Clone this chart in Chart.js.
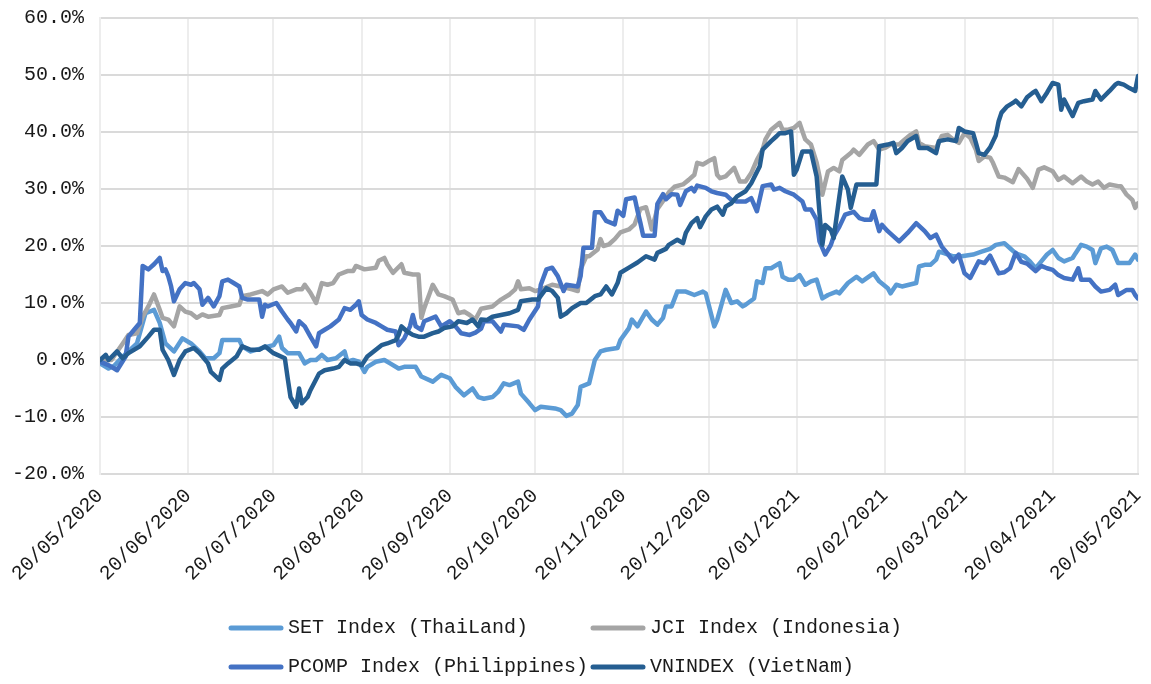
<!DOCTYPE html>
<html>
<head>
<meta charset="utf-8">
<title>ASEAN indices</title>
<script src="https://cdn.jsdelivr.net/npm/chart.js"></script>
<style>
  html, body { margin: 0; padding: 0; background: #fff; }
</style>
</head>
<body>
<canvas id="chart" width="1151" height="684"></canvas>
<script>
// x values are day offsets counted from 20/05/2020
const tickLabels = ['20/05/2020', '20/06/2020', '20/07/2020', '20/08/2020', '20/09/2020', '20/10/2020',
  '20/11/2020', '20/12/2020', '20/01/2021', '20/02/2021', '20/03/2021', '20/04/2021', '20/05/2021'];

const seriesNames = ['SET Index (ThaiLand)', 'JCI Index (Indonesia)', 'PCOMP Index (Philippines)', 'VNINDEX (VietNam)'];
const seriesColors = ['#5B9BD5', '#A5A5A5', '#4472C4', '#255E91'];

// SET Index (ThaiLand), % change
const setDays = [0, 3, 5, 8, 13, 16, 19, 21, 23, 26, 29, 32, 35, 37, 40, 42, 43, 49, 50, 53, 57, 61, 63, 64, 66, 70, 72, 74, 76, 78,
  80, 83, 86, 87, 89, 91, 93, 94, 97, 100, 102, 105, 107, 111, 113, 117, 120, 123, 125, 128, 131, 133, 135, 138, 140, 142, 144, 147, 148, 151,
  153, 155, 160, 162, 164, 166, 168, 169, 172, 174, 176, 178, 182, 183, 186, 187, 189, 192, 194, 196, 198, 199, 201, 203, 206, 209, 212, 213, 216, 217,
  220, 222, 224, 226, 227, 230, 231, 233, 234, 236, 239, 240, 242, 244, 246, 248, 250, 252, 254, 256, 259, 260, 263, 266, 268, 272, 274, 277, 278, 280,
  282, 287, 288, 290, 292, 294, 295, 297, 300, 303, 307, 310, 313, 315, 318, 320, 322, 325, 327, 329, 331, 333, 335, 337, 339, 342, 343, 345, 347, 349,
  350, 352, 354, 356, 358, 362, 364, 365];
const setValues = [-0.6, -1.5, -1.0, 0.6, 2.9, 8.2, 8.8, 6.5, 2.9, 1.5, 3.8, 2.9, 1.5, 0.3, 0.3, 1.2, 3.5, 3.5, 2.4, 1.5, 2.1, 2.6, 4.1, 2.1, 1.2, 1.2, -0.6, 0, 0, 0.9,
  0, 0.3, 1.5, -0.3, 0, -0.3, -2.1, -1.2, -0.3, 0, -0.6, -1.5, -1.2, -1.2, -2.9, -3.8, -2.6, -3.2, -4.7, -6.2, -5.0, -6.5, -6.8, -6.5, -5.6, -4.1, -4.4, -3.8, -5.9, -7.6,
  -8.8, -8.2, -8.5, -8.8, -9.8, -9.4, -7.9, -4.7, -4.1, 0, 1.5, 1.8, 2.1, 3.5, 5.6, 7.1, 5.9, 8.5, 7.1, 6.2, 7.4, 9.4, 9.4, 12.0, 12.0, 11.4, 12.0, 11.7, 5.9, 7.0,
  12.3, 10.0, 10.3, 9.4, 9.7, 10.8, 13.8, 13.5, 16.1, 16.1, 17.0, 14.6, 14.1, 14.1, 14.9, 13.2, 13.8, 14.1, 10.8, 11.4, 12.0, 11.7, 13.5, 14.6, 13.8, 15.2, 13.8, 12.6, 11.7, 13.2,
  12.9, 13.5, 16.4, 16.7, 16.7, 17.6, 19.0, 18.7, 18.2, 18.2, 18.5, 19.0, 19.5, 20.2, 20.5, 19.6, 18.7, 18.2, 17.3, 16.1, 17.3, 18.5, 19.3, 17.9, 17.3, 17.9, 18.7, 20.2, 19.9, 19.3,
  17.0, 19.6, 19.9, 19.3, 17.0, 17.0, 18.5, 17.6];

// JCI Index (Indonesia)
const jciDays = [0, 4, 8, 10, 13, 15, 17, 19, 21, 22, 24, 26, 28, 30, 32, 34, 36, 38, 42, 43, 46, 49, 50, 53, 57, 59, 61, 64, 66, 69,
  71, 72, 74, 76, 78, 80, 82, 84, 87, 89, 90, 93, 97, 98, 100, 101, 103, 106, 107, 110, 112, 113, 114, 116, 117, 119, 121, 124, 126, 128,
  130, 132, 134, 138, 141, 144, 146, 147, 148, 151, 153, 155, 159, 162, 166, 168, 169, 171, 172, 175, 176, 177, 179, 181, 183, 186, 188, 190, 192, 193,
  194, 196, 198, 200, 202, 205, 207, 209, 210, 212, 214, 216, 217, 218, 220, 223, 224, 225, 227, 229, 231, 233, 234, 236, 239, 240, 242, 244, 246, 247,
  248, 250, 252, 253, 254, 256, 258, 260, 261, 264, 265, 267, 270, 272, 274, 276, 278, 281, 283, 285, 287, 288, 290, 294, 296, 298, 300, 302, 304, 306,
  308, 309, 311, 313, 314, 316, 318, 321, 323, 326, 328, 330, 332, 335, 337, 339, 342, 345, 347, 349, 351, 353, 355, 358, 359, 361, 363, 364, 365];
const jciValues = [0, 0, 2.9, 4.4, 4.7, 7.6, 9.4, 11.5, 8.8, 7.4, 7.1, 5.9, 9.4, 8.5, 8.2, 7.4, 8.0, 7.6, 7.9, 9.1, 9.4, 9.7, 11.2, 11.5, 12.1, 11.5, 12.4, 12.9, 11.8, 12.4,
  12.4, 13.2, 11.8, 10.0, 13.5, 13.2, 13.5, 15.0, 15.6, 15.6, 16.5, 15.9, 16.2, 17.4, 17.9, 16.8, 15.3, 16.8, 15.3, 15.0, 15.0, 7.4, 9.1, 11.8, 13.2, 11.5, 11.2, 10.6, 8.2, 8.5,
  7.9, 7.1, 9.0, 9.4, 10.6, 11.5, 12.4, 13.8, 12.4, 12.6, 12.1, 12.4, 13.2, 12.9, 12.4, 12.1, 15.9, 18.2, 18.2, 19.4, 21.2, 20.0, 20.3, 21.2, 22.4, 22.9, 23.8, 26.5, 26.8, 25.0,
  22.9, 26.5, 27.9, 29.4, 30.4, 30.8, 31.6, 32.5, 34.6, 34.3, 34.9, 35.4, 32.5, 31.9, 32.2, 33.7, 32.5, 31.3, 31.3, 32.8, 35.1, 36.9, 38.7, 40.4, 41.6, 40.4, 40.4, 40.7, 41.6, 40.1,
  38.7, 37.8, 34.6, 32.2, 29.0, 33.1, 33.7, 33.1, 35.1, 36.3, 36.9, 36.0, 37.8, 38.4, 36.9, 37.2, 37.8, 37.8, 38.7, 39.5, 40.1, 38.1, 37.5, 37.2, 39.3, 39.5, 38.7, 38.1, 39.8, 39.0,
  36.9, 34.9, 35.7, 35.5, 34.6, 32.2, 32.0, 31.2, 33.5, 31.8, 30.2, 33.4, 33.8, 33.1, 31.6, 32.2, 31.0, 32.2, 31.3, 30.8, 31.3, 30.2, 30.8, 30.5, 30.5, 29.0, 28.1, 26.7, 27.5];

// PCOMP Index (Philippines)
const pcompDays = [0, 3, 6, 9, 10, 12, 14, 15, 17, 19, 21, 22, 23, 24, 25, 26, 28, 30, 32, 33, 35, 36, 38, 40, 42, 43, 45, 47, 49, 50,
  52, 56, 57, 58, 59, 62, 64, 66, 67, 69, 70, 72, 74, 76, 77, 79, 81, 84, 86, 88, 90, 91, 92, 94, 97, 99, 101, 104, 105, 107,
  109, 110, 111, 113, 114, 118, 120, 123, 125, 127, 130, 132, 134, 135, 138, 141, 142, 147, 149, 151, 154, 155, 157, 159, 161, 163, 164, 168, 169, 170,
  173, 174, 176, 178, 181, 182, 184, 185, 188, 189, 190, 191, 195, 196, 198, 199, 201, 203, 204, 206, 208, 209, 210, 213, 215, 217, 220, 222, 224, 227,
  229, 231, 233, 236, 237, 239, 241, 244, 247, 248, 250, 252, 253, 255, 257, 258, 260, 262, 265, 267, 269, 271, 272, 274, 275, 277, 281, 284, 287, 290,
  292, 294, 296, 298, 300, 302, 304, 306, 309, 311, 313, 314, 316, 318, 320, 322, 324, 326, 329, 331, 333, 335, 337, 339, 342, 344, 345, 348, 350, 352,
  355, 357, 358, 361, 363, 364, 365];
const pcompValues = [-0.3, -0.9, -1.8, 0.6, 4.1, 5.3, 6.5, 16.5, 15.9, 16.8, 17.9, 15.6, 15.9, 14.7, 12.9, 10.3, 12.4, 13.5, 13.2, 13.5, 12.4, 9.7, 10.9, 9.4, 11.2, 13.8, 14.1, 13.5, 12.9, 10.9,
  10.6, 10.6, 7.6, 9.7, 9.4, 10.0, 8.5, 7.1, 6.5, 5.0, 6.8, 5.9, 4.1, 2.4, 4.7, 5.3, 5.9, 7.1, 9.1, 8.8, 9.7, 10.3, 7.9, 7.1, 6.5, 5.9, 5.3, 5.0, 2.6, 3.8,
  5.9, 7.9, 5.9, 5.3, 6.8, 7.6, 5.9, 6.8, 5.9, 4.7, 4.4, 4.8, 5.5, 6.8, 6.8, 5.0, 6.2, 5.9, 5.3, 7.1, 9.4, 13.2, 15.9, 16.2, 14.7, 12.1, 13.2, 12.9, 14.7, 19.7,
  19.7, 25.9, 25.9, 24.4, 23.8, 26.2, 25.3, 28.2, 28.5, 26.2, 24.1, 21.8, 21.8, 27.4, 29.1, 28.2, 29.1, 29.0, 27.2, 29.6, 30.2, 29.6, 30.6, 30.2, 29.6, 29.3, 29.0, 28.1, 27.8, 27.8,
  28.4, 26.1, 30.5, 30.8, 29.9, 30.2, 29.6, 29.0, 27.8, 26.4, 26.4, 24.6, 20.8, 18.5, 20.2, 21.7, 23.4, 25.5, 26.0, 24.9, 24.6, 24.6, 26.1, 22.6, 23.7, 22.6, 20.8, 22.3, 24.0, 22.6,
  21.4, 22.0, 19.9, 18.7, 17.3, 18.5, 15.2, 14.4, 17.3, 17.0, 18.3, 17.3, 15.2, 15.4, 16.1, 18.8, 17.2, 16.9, 15.6, 16.5, 16.1, 15.8, 14.9, 14.4, 14.1, 16.1, 14.1, 14.1, 12.9, 12.0,
  12.3, 13.2, 11.4, 12.3, 12.3, 11.4, 10.8];

// VNINDEX (VietNam)
const vnDays = [0, 2, 3, 6, 8, 10, 14, 17, 19, 21, 22, 24, 26, 28, 30, 33, 35, 38, 39, 42, 43, 45, 48, 50, 53, 56, 58, 61, 65, 66,
  67, 69, 70, 71, 73, 74, 77, 79, 82, 84, 86, 88, 90, 92, 94, 97, 99, 101, 104, 105, 106, 108, 110, 112, 114, 117, 119, 121, 124, 126,
  129, 131, 133, 134, 136, 138, 141, 144, 147, 148, 152, 154, 157, 159, 161, 162, 164, 166, 169, 171, 174, 176, 178, 180, 182, 183, 186, 189, 192, 195,
  196, 199, 200, 203, 205, 206, 208, 210, 211, 213, 215, 217, 219, 220, 222, 224, 227, 229, 232, 233, 236, 238, 239, 241, 243, 244, 245, 247, 250, 252,
  253, 254, 255, 257, 258, 260, 261, 263, 264, 266, 273, 274, 277, 279, 280, 282, 284, 287, 288, 291, 294, 295, 298, 301, 302, 304, 307, 308, 309, 311,
  313, 315, 316, 317, 319, 321, 322, 324, 326, 328, 329, 331, 333, 335, 337, 338, 339, 342, 344, 346, 349, 350, 352, 355, 357, 358, 360, 362, 364, 365];
const vnValues = [0, 0.9, 0, 1.5, 0.3, 1.2, 2.4, 4.1, 5.3, 5.3, 1.8, 0, -2.6, 0, 1.5, 2.1, 1.2, -0.6, -2.1, -3.5, -1.5, -0.6, 0.6, 2.4, 1.8, 1.8, 2.4, 1.2, 0.3, -3.2,
  -6.5, -8.2, -5.0, -7.6, -6.5, -5.3, -2.4, -1.8, -1.5, -1.2, 0, -0.6, -0.6, -0.9, 0.6, 1.8, 2.6, 2.9, 3.5, 4.4, 5.9, 5.0, 4.4, 4.1, 4.1, 4.7, 5.0, 5.6, 5.9, 6.8,
  6.5, 7.1, 5.9, 7.1, 7.0, 7.6, 7.9, 8.2, 8.8, 10.3, 10.6, 10.6, 12.6, 12.1, 10.9, 7.6, 8.2, 9.1, 10.0, 10.0, 11.2, 11.5, 12.9, 11.5, 13.5, 15.3, 16.2, 17.1, 18.2, 17.6,
  18.8, 19.5, 20.2, 21.1, 20.5, 22.3, 24.0, 24.9, 23.3, 25.2, 26.4, 26.9, 25.5, 26.9, 27.5, 28.7, 29.6, 31.0, 34.0, 36.9, 38.4, 39.3, 39.8, 39.8, 40.1, 32.5, 33.4, 36.6, 36.6, 32.2,
  25.8, 20.2, 23.7, 22.8, 21.4, 28.7, 32.2, 29.9, 26.7, 30.8, 30.8, 37.5, 37.8, 38.1, 36.3, 37.2, 38.4, 39.3, 37.2, 37.2, 36.3, 38.4, 38.7, 38.4, 40.7, 40.1, 39.8, 38.1, 36.3, 36.0,
  37.3, 39.4, 41.9, 43.4, 44.5, 45.1, 45.5, 44.5, 46.1, 46.9, 47.2, 45.4, 46.9, 48.6, 48.3, 43.9, 45.7, 42.8, 45.1, 45.4, 45.7, 47.2, 45.7, 47.2, 48.3, 48.6, 48.3, 47.7, 47.2, 49.8];

function dayOffset(label) {
  const [d, m, y] = label.split('/').map(Number);
  return Math.round((Date.UTC(y, m - 1, d) - Date.UTC(2020, 4, 20)) / 86400000);
}
const tickDays = tickLabels.map(dayOffset);

function points(days, values) {
  return days.map((d, i) => ({ x: d, y: values[i] }));
}

const seriesData = [
  points(setDays, setValues),
  points(jciDays, jciValues),
  points(pcompDays, pcompValues),
  points(vnDays, vnValues)
];

const fontFamily = "'Liberation Mono', 'DejaVu Sans Mono', monospace";
const font = { family: fontFamily, size: 20 };
const textColor = '#1a1a1a';

// two-column legend under the axis, laid out like the Excel original
const legendPlugin = {
  id: 'twoColumnLegend',
  afterDraw(chart) {
    const ctx = chart.ctx;
    const left = chart.chartArea.left;
    const colX = [left + 129, left + 491];
    const rowY = [chart.height - 56, chart.height - 17];
    ctx.save();
    ctx.font = '20px ' + fontFamily;
    ctx.textBaseline = 'middle';
    ctx.textAlign = 'left';
    chart.data.datasets.forEach((ds, i) => {
      const x = colX[i % 2];
      const y = rowY[Math.floor(i / 2)];
      ctx.strokeStyle = ds.borderColor;
      ctx.lineWidth = 5;
      ctx.lineCap = 'round';
      ctx.beginPath();
      ctx.moveTo(x + 2, y);
      ctx.lineTo(x + 52, y);
      ctx.stroke();
      ctx.fillStyle = textColor;
      ctx.fillText(ds.label, x + 59, y);
    });
    ctx.restore();
  }
};

new Chart(document.getElementById('chart'), {
  type: 'line',
  data: {
    datasets: seriesNames.map((name, i) => ({
      label: name,
      data: seriesData[i],
      borderColor: seriesColors[i],
      backgroundColor: seriesColors[i],
      borderWidth: 4.5,
      borderJoinStyle: 'round',
      borderCapStyle: 'round',
      pointRadius: 0,
      tension: 0,
      // later series sit on top, like the original
      order: seriesNames.length - i
    }))
  },
  plugins: [legendPlugin],
  options: {
    responsive: false,
    animation: false,
    layout: { padding: { left: 0, right: 13, top: 18, bottom: 86 } },
    plugins: {
      tooltip: { enabled: false },
      legend: { display: false }
    },
    scales: {
      x: {
        type: 'linear',
        min: 0,
        max: 365,
        afterBuildTicks: scale => { scale.ticks = tickDays.map(v => ({ value: v })); },
        afterFit: scale => {
          scale.height = 124;
          scale.paddingRight = 0;
          scale.paddingTop = 0;
        },
        ticks: {
          autoSkip: false,
          minRotation: 45,
          maxRotation: 45,
          padding: 10,
          font: font,
          color: textColor,
          callback: (value, index) => tickLabels[index]
        },
        grid: { color: '#EDEDED', lineWidth: 2, drawTicks: false },
        border: { color: '#DADADA', width: 2 }
      },
      y: {
        min: -20,
        max: 60,
        afterFit: scale => {
          scale.width = 100;
          scale.paddingTop = 0;
          scale.paddingBottom = 0;
        },
        ticks: {
          stepSize: 10,
          padding: 16,
          font: font,
          color: textColor,
          callback: v => v.toFixed(1) + '%'
        },
        grid: { color: '#DADADA', lineWidth: 2, drawTicks: false },
        border: { color: '#EDEDED', width: 2 }
      }
    }
  }
});
</script>
</body>
</html>
